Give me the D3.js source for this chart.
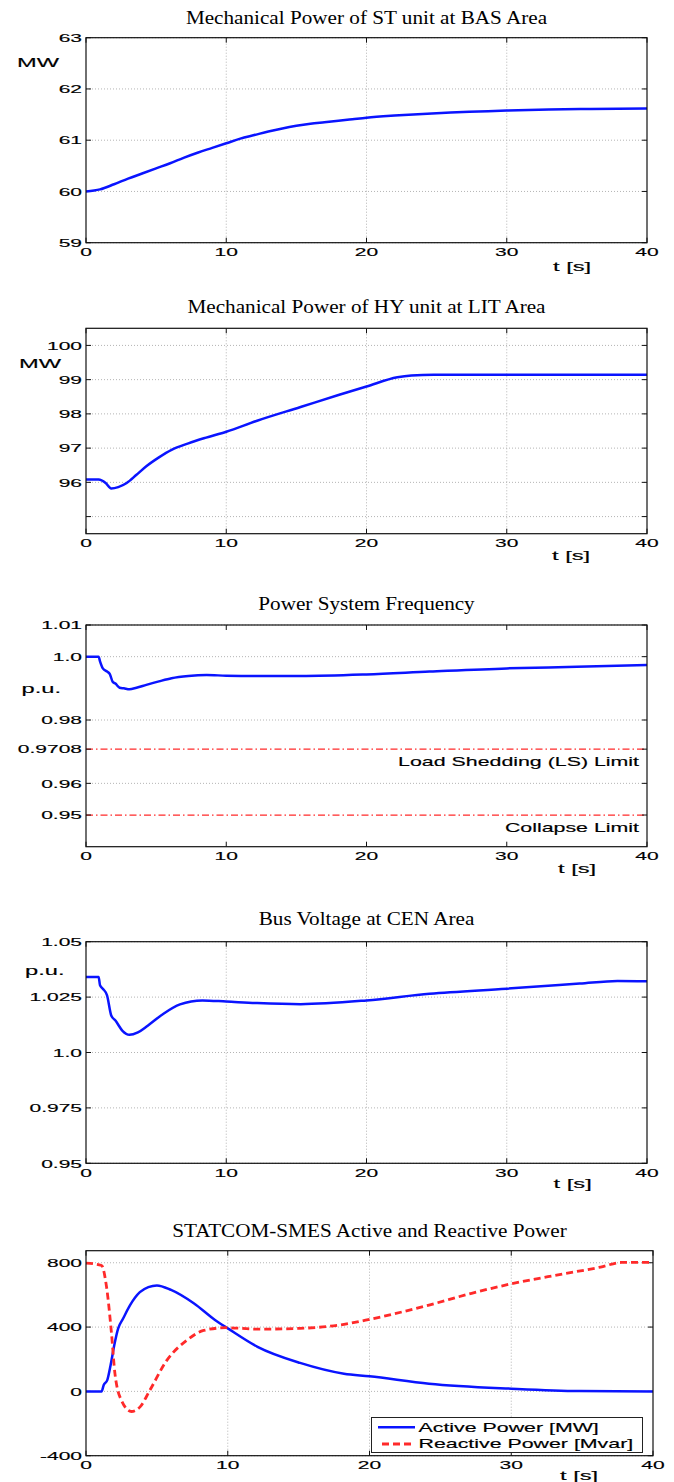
<!DOCTYPE html>
<html>
<head>
<meta charset="utf-8">
<script src="https://cdn.jsdelivr.net/npm/d3@7"></script>
<style>html,body{margin:0;padding:0;background:#fff;}</style>
</head>
<body>
<svg id="chart"></svg>
<script>
// ---- data ----
const titles = [
  'Mechanical Power of ST unit at BAS Area',
  'Mechanical Power of HY unit at LIT Area',
  'Power System Frequency',
  'Bus Voltage at CEN Area',
  'STATCOM-SMES Active and Reactive Power'
];
const xTicks = [0, 10, 20, 30, 40];

const yTicksST = [59, 60, 61, 62, 63];
const yLabelsST = ['59', '60', '61', '62', '63'];
const yTicksHY = [95, 96, 97, 98, 99, 100];
const yLabelsHY = ['', '96', '97', '98', '99', '100'];
const yTicksF = [0.95, 0.96, 0.9708, 0.98, 1.0, 1.01];
const yLabelsF = ['0.95', '0.96', '0.9708', '0.98', '1.0', '1.01'];
const yTicksV = [0.95, 0.975, 1.0, 1.025, 1.05];
const yLabelsV = ['0.95', '0.975', '1.0', '1.025', '1.05'];
const yTicksP = [-400, 0, 400, 800];
const yLabelsP = ['-400', '0', '400', '800'];

const limitValues = [0.9708, 0.95];
const limitNames = ['Load Shedding (LS) Limit', 'Collapse Limit'];

const tST = [0,1,2,3,4,5,6,7,8,9,10,11,12,13,14,15,16,17,18,19,20,22,24,26,28,30,33,36,40];
const pST = [60.0,60.04,60.14,60.25,60.35,60.45,60.55,60.66,60.76,60.85,60.94,61.03,61.1,61.17,61.23,61.28,61.32,61.35,61.38,61.41,61.44,61.48,61.51,61.54,61.56,61.58,61.6,61.61,61.62];

const tHY = [0,0.9,1.4,1.8,2.3,2.9,3.6,4.3,5.2,6.1,7.3,8.5,10,12.2,15.3,18,20,22.2,23.2,24.8,30,40];
const pHY = [96.08,96.08,95.98,95.82,95.86,95.98,96.22,96.47,96.73,96.95,97.14,97.3,97.48,97.8,98.2,98.55,98.8,99.07,99.12,99.14,99.14,99.14];

const tF = [0,0.9,1.0,1.2,1.5,1.7,1.9,2.1,2.4,2.7,3.1,3.6,4.3,5.2,6.1,7.3,8.6,10,12.2,15.3,20,24.5,30,35,40];
const fF = [1.0,1.0,0.9985,0.9963,0.9953,0.9945,0.9921,0.9915,0.9902,0.99,0.9897,0.9902,0.9911,0.9922,0.9932,0.9939,0.9942,0.994,0.9939,0.9939,0.9944,0.9953,0.9963,0.9968,0.9974];

const tV = [0,0.9,1.0,1.2,1.5,1.8,2.1,2.6,3.1,3.7,4.4,5.5,6.7,8.3,10,12.2,15.3,20,24.5,30,35.2,37.9,40];
const vV = [1.0341,1.0341,1.0303,1.0288,1.0258,1.0167,1.0144,1.0098,1.008,1.0091,1.0121,1.0174,1.0217,1.0235,1.023,1.0223,1.0218,1.0235,1.0265,1.0288,1.0311,1.0323,1.0321];

const tAct = [0,1.1,1.25,1.5,1.75,2.0,2.27,2.6,3.1,3.8,4.4,5.0,6.0,7.6,9.1,10,12.1,15.1,18.2,20,24.2,30,34.8,40];
const pAct = [0,0,40,70,170,290,392,450,535,617,648,659,631,548,444,392,277,177,110,94,48,17,2,0];
const tReact = [0,1.1,1.45,1.8,2.04,2.5,3.2,3.8,4.5,5.7,7.1,8.3,9.9,12.1,15.1,18.2,20,24.2,27.2,30,33.3,36.3,37.8,40];
const qReact = [798,783,649,359,112,-56,-125,-98,6,193,317,379,396,387,392,417,448,537,610,669,725,773,802,802];

const legendNames = ['Active Power [MW]', 'Reactive Power [Mvar]'];

// ---- drawing ----
const svg = d3.select('#chart')
    .attr('width', 674)
    .attr('height', 1482)
    .style('display', 'block')
    .style('background', '#fff');

const SANS = '"Liberation Sans", Arial, sans-serif';
const SERIF = '"Liberation Serif", "Times New Roman", serif';
const SX = 1.78;
const BLUE = '#0a14ff';
const RED = '#ff2a2a';

function wideText(g, x, y, str, size, anchor) {
  return g.append('text')
      .attr('transform', `translate(${x},${y}) scale(${SX},1)`)
      .attr('text-anchor', anchor)
      .style('font-family', SANS)
      .style('font-size', size + 'px')
      .style('fill', '#000')
      .style('stroke', '#000')
      .style('stroke-width', 0.15)
      .text(str);
}

function drawPanel(p) {
  const left = 86;
  const x = d3.scaleLinear().domain([0, 40]).range([left, p.right]);
  const y = d3.scaleLinear().domain(p.yDomain).range([p.bottom, p.top]);
  const g = svg.append('g');

  g.append('text')
      .attr('transform', `translate(${(left + p.right) / 2},${p.titleY}) scale(1.115,1)`)
      .attr('text-anchor', 'middle')
      .style('font-family', SERIF)
      .style('font-size', '19px')
      .style('fill', '#000')
      .text(p.title);

  // grid
  if (p.vGrid) {
    g.selectAll('.vg').data(xTicks.slice(1, -1)).enter().append('line')
        .attr('x1', d => x(d)).attr('x2', d => x(d))
        .attr('y1', p.top).attr('y2', p.bottom)
        .attr('stroke', '#b4b4b4').attr('stroke-width', 1)
        .attr('stroke-dasharray', '1,2');
  }
  g.selectAll('.hg').data(p.yTicks).enter().append('line')
      .attr('x1', left).attr('x2', p.right)
      .attr('y1', d => y(d)).attr('y2', d => y(d))
      .attr('stroke', '#b4b4b4').attr('stroke-width', 1)
      .attr('stroke-dasharray', '1,2');

  // tick marks (inside, all four sides)
  const tk = 5;
  xTicks.forEach(d => {
    g.append('line').attr('x1', x(d)).attr('x2', x(d)).attr('y1', p.bottom).attr('y2', p.bottom - tk)
        .attr('stroke', '#111');
    g.append('line').attr('x1', x(d)).attr('x2', x(d)).attr('y1', p.top).attr('y2', p.top + tk)
        .attr('stroke', '#111');
    wideText(g, x(d), p.bottom + 13.5, String(d), 11.8, 'middle');
  });
  p.yTicks.forEach((d, i) => {
    g.append('line').attr('x1', left).attr('x2', left + tk).attr('y1', y(d)).attr('y2', y(d))
        .attr('stroke', '#111');
    g.append('line').attr('x1', p.right).attr('x2', p.right - tk).attr('y1', y(d)).attr('y2', y(d))
        .attr('stroke', '#111');
    if (p.yLabels[i]) wideText(g, left - 4, y(d) + 4.2, p.yLabels[i], 11.8, 'end');
  });

  // limit lines
  if (p.limits) {
    p.limits.forEach((v, i) => {
      g.append('line')
          .attr('x1', left).attr('x2', p.right)
          .attr('y1', y(v)).attr('y2', y(v))
          .attr('stroke', RED).attr('stroke-width', 1.3)
          .attr('stroke-dasharray', '7,3,1.5,3');
      wideText(g, 639, y(v) + 17, limitNames[i], 12, 'end');
    });
  }

  // series
  const line = d3.line()
      .x(d => x(d[0]))
      .y(d => y(d[1]))
      .curve(d3.curveMonotoneX);
  p.series.forEach(s => {
    g.append('path')
        .datum(d3.zip(s.t, s.v))
        .attr('d', line)
        .attr('fill', 'none')
        .attr('stroke', s.color)
        .attr('stroke-width', s.width)
        .attr('stroke-dasharray', s.dash || null);
  });

  // frame
  g.append('rect')
      .attr('x', left).attr('y', p.top)
      .attr('width', p.right - left).attr('height', p.bottom - p.top)
      .attr('fill', 'none').attr('stroke', '#111').attr('stroke-width', 1.2);

  // axis labels
  if (p.yName) wideText(g, p.yNameX, p.yNameY, p.yName, 13.3, 'start');
  wideText(g, p.tX, p.tY, 't [s]', 13.3, 'start');

  return {g, x, y};
}

drawPanel({
  title: titles[0], titleY: 23.5, top: 37.7, bottom: 242.7, right: 647,
  yDomain: [59, 63], yTicks: yTicksST, yLabels: yLabelsST, vGrid: true,
  yName: 'MW', yNameX: 17, yNameY: 66.5, tX: 553, tY: 270.5,
  series: [{t: tST, v: pST, color: BLUE, width: 2.5}]
});

drawPanel({
  title: titles[1], titleY: 312.7, top: 328.3, bottom: 533.7, right: 647,
  yDomain: [94.5, 100.5], yTicks: yTicksHY, yLabels: yLabelsHY, vGrid: true,
  yName: 'MW', yNameX: 19, yNameY: 368.3, tX: 552, tY: 560,
  series: [{t: tHY, v: pHY, color: BLUE, width: 2.5}]
});

drawPanel({
  title: titles[2], titleY: 610, top: 625, bottom: 846.7, right: 647,
  yDomain: [0.94, 1.01], yTicks: yTicksF.filter(d => !limitValues.includes(d)),
  yLabels: yLabelsF.filter((d, i) => !limitValues.includes(yTicksF[i])), vGrid: false,
  limits: limitValues,
  yName: 'p.u.', yNameX: 21.5, yNameY: 693, tX: 558, tY: 872.7,
  series: [{t: tF, v: fF, color: BLUE, width: 2.5}]
});

drawPanel({
  title: titles[3], titleY: 925, top: 941.7, bottom: 1163.3, right: 647,
  yDomain: [0.95, 1.05], yTicks: yTicksV, yLabels: yLabelsV, vGrid: true,
  yName: 'p.u.', yNameX: 25, yNameY: 975, tX: 553.6, tY: 1188,
  series: [{t: tV, v: vV, color: BLUE, width: 2.5}]
});

const last = drawPanel({
  title: titles[4], titleY: 1237.3, top: 1250.7, bottom: 1455.7, right: 653,
  yDomain: [-400, 875], yTicks: yTicksP, yLabels: yLabelsP, vGrid: true,
  yName: null, tX: 560, tY: 1480,
  series: [
    {t: tAct, v: pAct, color: BLUE, width: 2.5},
    {t: tReact, v: qReact, color: RED, width: 2.8, dash: '7,4'}
  ]
});

// tick labels and marks at the limit values of the frequency panel
(function () {
  const y = d3.scaleLinear().domain([0.94, 1.01]).range([846.7, 625]);
  limitValues.forEach(v => {
    const i = yTicksF.indexOf(v);
    wideText(svg, 82, y(v) + 4.2, yLabelsF[i], 11.8, 'end');
    [[86, 91], [647, 642]].forEach(([a, b]) => {
      svg.append('line').attr('x1', a).attr('x2', b).attr('y1', y(v)).attr('y2', y(v)).attr('stroke', '#111');
    });
  });
})();

// legend
const lg = last.g.append('g');
lg.append('rect')
    .attr('x', 371.5).attr('y', 1417.5).attr('width', 271).attr('height', 35)
    .attr('fill', '#fff').attr('stroke', '#222').attr('stroke-width', 1);
[{c: BLUE, w: 2.5, dash: null, x1: 378, y: 1427.3},
 {c: RED, w: 2.8, dash: '7,4', x1: 382, y: 1444}].forEach((e, i) => {
  lg.append('line')
      .attr('x1', e.x1).attr('x2', 415).attr('y1', e.y).attr('y2', e.y)
      .attr('stroke', e.c).attr('stroke-width', e.w).attr('stroke-dasharray', e.dash);
  wideText(lg, 418.5, e.y + 4.4, legendNames[i], 12, 'start');
});
</script>
</body>
</html>
